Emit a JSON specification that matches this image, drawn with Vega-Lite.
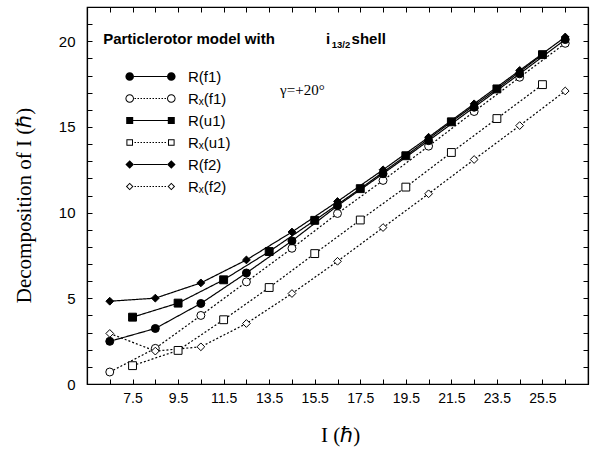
{
  "$schema": "https://vega.github.io/schema/vega-lite/v6.json",
  "autosize": "none",
  "width": 501,
  "height": 377,
  "padding": {"left": 87, "top": 7, "right": 7, "bottom": 68},
  "background": "white",
  "config": {
    "view": {"stroke": "black", "strokeWidth": 1.2},
    "axis": {
      "grid": false,
      "labelFont": "Liberation Sans",
      "labelFontSize": 14,
      "labelColor": "black",
      "tickColor": "black",
      "domainColor": "black",
      "domainWidth": 1.2,
      "tickWidth": 1,
      "titleFont": "Liberation Serif",
      "titleFontWeight": "normal",
      "titleFontSize": 21,
      "titleColor": "black"
    }
  },
  "data": {
    "values": [
      {"I": 6.5, "R": 0.70, "series": "Rₓ(f1)"},
      {"I": 8.5, "R": 2.08, "series": "Rₓ(f1)"},
      {"I": 10.5, "R": 4.0, "series": "Rₓ(f1)"},
      {"I": 12.5, "R": 5.96, "series": "Rₓ(f1)"},
      {"I": 14.5, "R": 7.92, "series": "Rₓ(f1)"},
      {"I": 16.5, "R": 9.95, "series": "Rₓ(f1)"},
      {"I": 18.5, "R": 11.88, "series": "Rₓ(f1)"},
      {"I": 20.5, "R": 13.88, "series": "Rₓ(f1)"},
      {"I": 22.5, "R": 15.9, "series": "Rₓ(f1)"},
      {"I": 24.5, "R": 17.9, "series": "Rₓ(f1)"},
      {"I": 26.5, "R": 19.88, "series": "Rₓ(f1)"},
      {"I": 7.5, "R": 1.07, "series": "Rₓ(u1)"},
      {"I": 9.5, "R": 1.96, "series": "Rₓ(u1)"},
      {"I": 11.5, "R": 3.75, "series": "Rₓ(u1)"},
      {"I": 13.5, "R": 5.63, "series": "Rₓ(u1)"},
      {"I": 15.5, "R": 7.61, "series": "Rₓ(u1)"},
      {"I": 17.5, "R": 9.57, "series": "Rₓ(u1)"},
      {"I": 19.5, "R": 11.49, "series": "Rₓ(u1)"},
      {"I": 21.5, "R": 13.51, "series": "Rₓ(u1)"},
      {"I": 23.5, "R": 15.49, "series": "Rₓ(u1)"},
      {"I": 25.5, "R": 17.47, "series": "Rₓ(u1)"},
      {"I": 6.5, "R": 2.95, "series": "Rₓ(f2)"},
      {"I": 8.5, "R": 1.92, "series": "Rₓ(f2)"},
      {"I": 10.5, "R": 2.17, "series": "Rₓ(f2)"},
      {"I": 12.5, "R": 3.53, "series": "Rₓ(f2)"},
      {"I": 14.5, "R": 5.28, "series": "Rₓ(f2)"},
      {"I": 16.5, "R": 7.16, "series": "Rₓ(f2)"},
      {"I": 18.5, "R": 9.13, "series": "Rₓ(f2)"},
      {"I": 20.5, "R": 11.1, "series": "Rₓ(f2)"},
      {"I": 22.5, "R": 13.1, "series": "Rₓ(f2)"},
      {"I": 24.5, "R": 15.08, "series": "Rₓ(f2)"},
      {"I": 26.5, "R": 17.1, "series": "Rₓ(f2)"},
      {"I": 6.5, "R": 2.49, "series": "R(f1)"},
      {"I": 8.5, "R": 3.24, "series": "R(f1)"},
      {"I": 10.5, "R": 4.7, "series": "R(f1)"},
      {"I": 12.5, "R": 6.48, "series": "R(f1)"},
      {"I": 14.5, "R": 8.35, "series": "R(f1)"},
      {"I": 16.5, "R": 10.4, "series": "R(f1)"},
      {"I": 18.5, "R": 12.27, "series": "R(f1)"},
      {"I": 20.5, "R": 14.2, "series": "R(f1)"},
      {"I": 22.5, "R": 16.15, "series": "R(f1)"},
      {"I": 24.5, "R": 18.1, "series": "R(f1)"},
      {"I": 26.5, "R": 20.1, "series": "R(f1)"},
      {"I": 7.5, "R": 3.9, "series": "R(u1)"},
      {"I": 9.5, "R": 4.72, "series": "R(u1)"},
      {"I": 11.5, "R": 6.08, "series": "R(u1)"},
      {"I": 13.5, "R": 7.73, "series": "R(u1)"},
      {"I": 15.5, "R": 9.55, "series": "R(u1)"},
      {"I": 17.5, "R": 11.4, "series": "R(u1)"},
      {"I": 19.5, "R": 13.32, "series": "R(u1)"},
      {"I": 21.5, "R": 15.3, "series": "R(u1)"},
      {"I": 23.5, "R": 17.22, "series": "R(u1)"},
      {"I": 25.5, "R": 19.22, "series": "R(u1)"},
      {"I": 6.5, "R": 4.83, "series": "R(f2)"},
      {"I": 8.5, "R": 5.01, "series": "R(f2)"},
      {"I": 10.5, "R": 5.9, "series": "R(f2)"},
      {"I": 12.5, "R": 7.24, "series": "R(f2)"},
      {"I": 14.5, "R": 8.87, "series": "R(f2)"},
      {"I": 16.5, "R": 10.65, "series": "R(f2)"},
      {"I": 18.5, "R": 12.5, "series": "R(f2)"},
      {"I": 20.5, "R": 14.4, "series": "R(f2)"},
      {"I": 22.5, "R": 16.35, "series": "R(f2)"},
      {"I": 24.5, "R": 18.3, "series": "R(f2)"},
      {"I": 26.5, "R": 20.25, "series": "R(f2)"}
    ]
  },
  "layer": [
    {
      "mark": {"type": "line", "color": "black", "strokeWidth": 1.2},
      "encoding": {
        "x": {
          "field": "I", "type": "quantitative",
          "scale": {"domain": [5.5, 27.5], "nice": false, "zero": false},
          "axis": {
            "orient": "bottom",
            "title": "I (ℏ)",
            "values": [6.5, 7.5, 8.5, 9.5, 10.5, 11.5, 12.5, 13.5, 14.5, 15.5, 16.5, 17.5, 18.5, 19.5, 20.5, 21.5, 22.5, 23.5, 24.5, 25.5, 26.5],
            "format": ".1f",
            "labelExpr": "((datum.value - 7.5) % 2 == 0 && datum.value <= 25.5) ? datum.label : ''",
            "tickSize": -5,
            "labelPadding": 12,
            "titleFont": "Liberation Serif",
            "titleFontSize": 21,
            "titleX": 253,
            "titleY": 51,
            "titleBaseline": "middle",
            "titleAlign": "center"
          }
        },
        "y": {
          "field": "R", "type": "quantitative",
          "scale": {"domain": [0, 22], "nice": false},
          "axis": {
            "orient": "left",
            "title": "Decomposition of I (ℏ)",
            "values": [0, 1, 2, 3, 4, 5, 6, 7, 8, 9, 10, 11, 12, 13, 14, 15, 16, 17, 18, 19, 20, 21],
            "labelExpr": "datum.value % 5 == 0 ? datum.label : ''",
            "tickSize": -5,
            "labelPadding": 17,
            "labelFontSize": 15,
            "titleFont": "Liberation Serif",
            "titleFontSize": 21,
            "titleX": -63,
            "titleY": 198,
            "titleAngle": -90,
            "titleBaseline": "middle",
            "titleAlign": "center"
          }
        },
        "strokeDash": {
          "field": "series", "type": "nominal", "legend": null,
          "scale": {
            "domain": ["R(f1)", "Rₓ(f1)", "R(u1)", "Rₓ(u1)", "R(f2)", "Rₓ(f2)"],
            "range": [[1, 0], [2, 2], [1, 0], [2, 2], [1, 0], [2, 2]]
          }
        }
      }
    },
    {
      "mark": {"type": "point", "filled": true, "stroke": "black", "strokeWidth": 1, "opacity": 1},
      "encoding": {
        "x": {
          "field": "I", "type": "quantitative",
          "axis": {
            "orient": "top", "title": null, "labels": false,
            "values": [6.5, 7.5, 8.5, 9.5, 10.5, 11.5, 12.5, 13.5, 14.5, 15.5, 16.5, 17.5, 18.5, 19.5, 20.5, 21.5, 22.5, 23.5, 24.5, 25.5, 26.5],
            "tickSize": -5
          }
        },
        "y": {
          "field": "R", "type": "quantitative",
          "axis": {
            "orient": "right", "title": null, "labels": false,
            "values": [0, 1, 2, 3, 4, 5, 6, 7, 8, 9, 10, 11, 12, 13, 14, 15, 16, 17, 18, 19, 20, 21],
            "tickSize": -5
          }
        },
        "shape": {
          "field": "series", "type": "nominal", "legend": null,
          "scale": {
            "domain": ["R(f1)", "Rₓ(f1)", "R(u1)", "Rₓ(u1)", "R(f2)", "Rₓ(f2)"],
            "range": ["circle", "circle", "square", "square", "diamond", "diamond"]
          }
        },
        "fill": {
          "field": "series", "type": "nominal", "legend": null,
          "scale": {
            "domain": ["R(f1)", "Rₓ(f1)", "R(u1)", "Rₓ(u1)", "R(f2)", "Rₓ(f2)"],
            "range": ["black", "white", "black", "white", "black", "white"]
          }
        },
        "size": {
          "field": "series", "type": "nominal", "legend": null,
          "scale": {
            "domain": ["R(f1)", "Rₓ(f1)", "R(u1)", "Rₓ(u1)", "R(f2)", "Rₓ(f2)"],
            "range": [64, 60, 46, 42, 58, 44]
          }
        }
      }
    },
    {
      "transform": [{"filter": "false"}],
      "mark": {"type": "point", "filled": true, "color": "black", "strokeWidth": 0, "opacity": 1},
      "encoding": {
        "shape": {
          "field": "series", "type": "nominal",
          "scale": {
            "domain": ["R(f1)", "Rₓ(f1)", "R(u1)", "Rₓ(u1)", "R(f2)", "Rₓ(f2)"],
            "range": [
              "M-25.1,0A4.3,4.3,0,1,0,-16.5,0A4.3,4.3,0,1,0,-25.1,0ZM16.5,0A4.3,4.3,0,1,0,25.1,0A4.3,4.3,0,1,0,16.5,0ZM-16.5,-0.6h33v1.2h-33Z",
              "M-25.1,0A4.3,4.3,0,1,0,-16.5,0A4.3,4.3,0,1,0,-25.1,0ZM-24.1,0A3.3,3.3,0,1,1,-17.5,0A3.3,3.3,0,1,1,-24.1,0ZM16.5,0A4.3,4.3,0,1,0,25.1,0A4.3,4.3,0,1,0,16.5,0ZM17.5,0A3.3,3.3,0,1,1,24.1,0A3.3,3.3,0,1,1,17.5,0ZM-16,-0.5h1.5v1h-1.5ZM-13,-0.5h1.5v1h-1.5ZM-10,-0.5h1.5v1h-1.5ZM-7,-0.5h1.5v1h-1.5ZM-4,-0.5h1.5v1h-1.5ZM-1,-0.5h1.5v1h-1.5ZM2,-0.5h1.5v1h-1.5ZM5,-0.5h1.5v1h-1.5ZM8,-0.5h1.5v1h-1.5ZM11,-0.5h1.5v1h-1.5ZM14,-0.5h1.5v1h-1.5Z",
              "M-24.3,-3.5h7v7h-7ZM17.3,-3.5h7v7h-7ZM-17.3,-0.6h34.6v1.2h-34.6Z",
              "M-24.1,-3.3h6.6v6.6h-6.6ZM-23.1,-2.3v4.6h4.6v-4.6ZM17.5,-3.3h6.6v6.6h-6.6ZM18.5,-2.3v4.6h4.6v-4.6ZM-16,-0.5h1.5v1h-1.5ZM-13,-0.5h1.5v1h-1.5ZM-10,-0.5h1.5v1h-1.5ZM-7,-0.5h1.5v1h-1.5ZM-4,-0.5h1.5v1h-1.5ZM-1,-0.5h1.5v1h-1.5ZM2,-0.5h1.5v1h-1.5ZM5,-0.5h1.5v1h-1.5ZM8,-0.5h1.5v1h-1.5ZM11,-0.5h1.5v1h-1.5ZM14,-0.5h1.5v1h-1.5Z",
              "M-25.1,0L-20.8,-4.3L-16.5,0L-20.8,4.3ZM16.5,0L20.8,-4.3L25.1,0L20.8,4.3ZM-16.5,-0.6h33v1.2h-33Z",
              "M-24.6,0L-20.8,-3.8L-17,0L-20.8,3.8ZM-23.2,0L-20.8,2.4L-18.4,0L-20.8,-2.4ZM17,0L20.8,-3.8L24.6,0L20.8,3.8ZM18.4,0L20.8,2.4L23.2,0L20.8,-2.4ZM-16,-0.5h1.5v1h-1.5ZM-13,-0.5h1.5v1h-1.5ZM-10,-0.5h1.5v1h-1.5ZM-7,-0.5h1.5v1h-1.5ZM-4,-0.5h1.5v1h-1.5ZM-1,-0.5h1.5v1h-1.5ZM2,-0.5h1.5v1h-1.5ZM5,-0.5h1.5v1h-1.5ZM8,-0.5h1.5v1h-1.5ZM11,-0.5h1.5v1h-1.5ZM14,-0.5h1.5v1h-1.5Z"
            ]
          },
          "legend": {
            "orient": "none",
            "legendX": 56,
            "legendY": 62,
            "title": null,
            "padding": 0,
            "symbolSize": 4,
            "symbolOffset": 0,
            "symbolFillColor": "black",
            "symbolStrokeColor": "transparent",
            "symbolStrokeWidth": 0,
            "symbolOpacity": 1,
            "labelFont": "Liberation Sans",
            "labelFontSize": 15,
            "labelColor": "black",
            "labelOffset": 30,
            "rowPadding": 6
          }
        }
      }
    },
    {
      "data": {"values": [{"t": "Particlerotor model with"}]},
      "mark": {"type": "text", "font": "Liberation Sans", "fontWeight": "bold", "fontSize": 15, "align": "left", "baseline": "alphabetic", "color": "black"},
      "encoding": {
        "x": {"datum": 6.21, "type": "quantitative", "axis": null},
        "y": {"datum": 19.84, "type": "quantitative", "axis": null},
        "text": {"field": "t"}
      }
    },
    {
      "data": {"values": [{"t": "i"}]},
      "mark": {"type": "text", "font": "Liberation Sans", "fontWeight": "bold", "fontSize": 15, "align": "left", "baseline": "alphabetic", "color": "black"},
      "encoding": {
        "x": {"datum": 16.0, "type": "quantitative", "axis": null},
        "y": {"datum": 19.84, "type": "quantitative", "axis": null},
        "text": {"field": "t"}
      }
    },
    {
      "data": {"values": [{"t": "13/2"}]},
      "mark": {"type": "text", "font": "Liberation Sans", "fontWeight": "bold", "fontSize": 9.5, "align": "left", "baseline": "alphabetic", "color": "black"},
      "encoding": {
        "x": {"datum": 16.25, "type": "quantitative", "axis": null},
        "y": {"datum": 19.6, "type": "quantitative", "axis": null},
        "text": {"field": "t"}
      }
    },
    {
      "data": {"values": [{"t": "shell"}]},
      "mark": {"type": "text", "font": "Liberation Sans", "fontWeight": "bold", "fontSize": 15, "align": "left", "baseline": "alphabetic", "color": "black"},
      "encoding": {
        "x": {"datum": 17.12, "type": "quantitative", "axis": null},
        "y": {"datum": 19.84, "type": "quantitative", "axis": null},
        "text": {"field": "t"}
      }
    },
    {
      "data": {"values": [{"t": "γ=+20°"}]},
      "mark": {"type": "text", "font": "Liberation Serif", "fontSize": 15, "align": "left", "baseline": "alphabetic", "color": "black"},
      "encoding": {
        "x": {"datum": 13.98, "type": "quantitative", "axis": null},
        "y": {"datum": 16.87, "type": "quantitative", "axis": null},
        "text": {"field": "t"}
      }
    }
  ],
  "resolve": {
    "scale": {"shape": "independent"},
    "axis": {"x": "independent", "y": "independent"}
  }
}
